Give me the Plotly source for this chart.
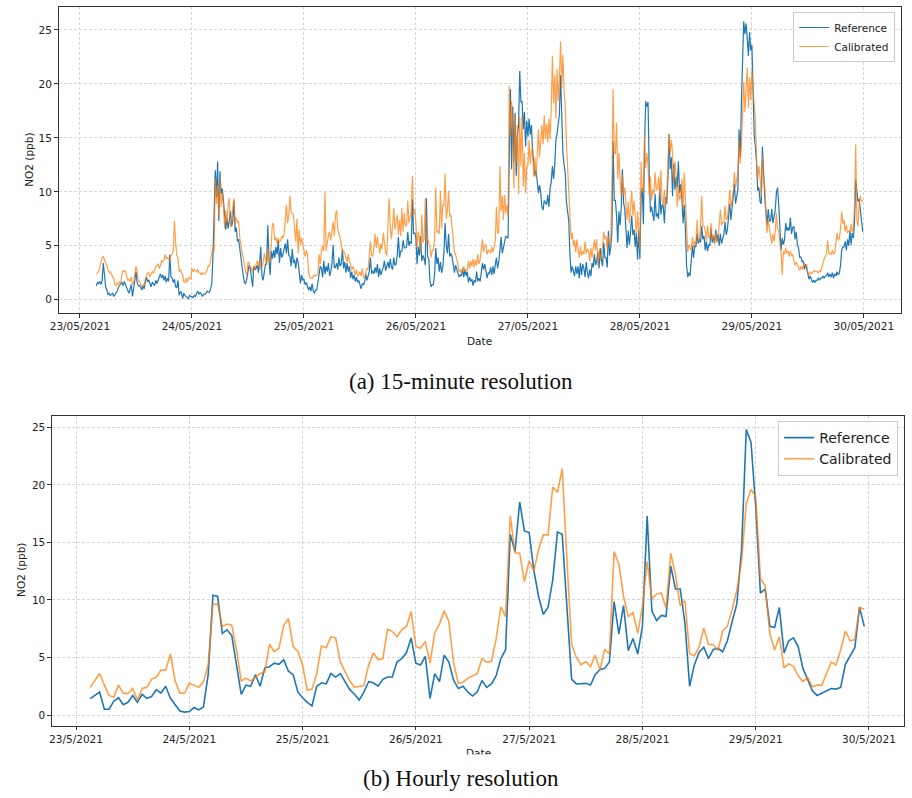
import plotly.graph_objects as go
import pandas as pd

# ---------------- data ----------------
# 15-minute resolution, starting 2021-05-23 03:30, step 15 min
start_15 = "2021-05-23 03:30"
ref_15 = [
    # 23/05
    1.3, 1.6,
    1.5, 1.7, 1.4, 1.8,  3.4, 2.4, 1.2, 0.9,  0.5, 0.6, 0.4, 0.5,  0.6, 0.3, 0.5, 0.6,
    0.8, 1.2, 1.3, 1.5,  1.6, 1.3, 1.7, 1.4,  1.1, 0.9, 0.6, 1.0,  1.4, 0.3, 0.9, 1.8,
    2.6, 1.6, 1.3, 1.3,  1.2, 0.9, 1.3, 1.0,  1.6, 2.1, 1.7, 1.8,  1.5, 1.2, 1.6, 1.5,
    1.3, 1.8, 1.5, 1.8,  2.1, 2.4, 2.0, 2.3,  1.8, 2.2, 1.6, 2.0,  1.7, 4.2, 2.1, 2.0,
    1.6, 1.9, 1.2, 1.1,  1.8, 0.4, 0.7, 0.7,  0.1, 0.6, 0.4, 0.3,  0.2, 0.1, 0.4, 0.3,
    # 24/05
    0.3, 0.2, 0.4, 0.3,  0.6, 0.8, 0.5, 0.7,  0.5, 0.3, 0.5, 0.5,  0.6, 0.8, 0.7, 0.7,
    1.0, 1.5, 4.0, 7.5,  12.0, 9.5, 12.8, 7.3,  11.9, 9.8, 10.3, 9.2,  7.7, 6.5, 7.6, 6.6,
    7.3, 8.2, 6.8, 7.3,  9.2, 6.3, 6.7, 5.4,  5.6, 4.6, 3.9, 3.1,  2.2, 1.6, 1.5, 1.9,
    2.4, 3.2, 2.9, 1.9,  1.2, 3.1, 2.8, 2.9,  3.2, 2.5, 3.4, 4.9,  2.2, 1.8, 2.7, 3.3,
    3.3, 6.9, 3.9, 2.3,  4.5, 3.8, 4.6, 3.9,  4.9, 4.2, 5.5, 3.4,  4.8, 3.9, 4.2, 4.7,
    5.2, 4.3, 5.6, 4.1,  4.0, 3.1, 4.7, 3.4,  3.7, 2.9, 3.9, 3.5,  2.4, 1.5, 2.3, 1.8,
    # 25/05
    1.9, 1.4, 1.6, 1.1,  0.9, 1.2, 0.8, 1.5,  0.8, 0.6, 0.9, 0.9,  1.6, 2.4, 3.1, 2.9,
    2.1, 3.6, 2.4, 3.1,  2.6, 3.4, 2.2, 2.6,  3.3, 5.1, 3.0, 3.0,  3.4, 2.8, 3.9, 3.1,
    3.3, 4.7, 2.9, 3.5,  2.5, 3.4, 2.6, 3.1,  2.0, 2.6, 1.9, 2.3,  1.7, 2.1, 1.6, 1.8,
    1.3, 1.0, 1.5, 1.4,  1.6, 2.4, 1.8, 2.2,  2.6, 3.9, 2.4, 2.7,  2.4, 3.0, 2.5, 3.3,
    2.1, 2.9, 2.3, 2.7,  3.0, 3.6, 2.7, 3.1,  3.5, 2.9, 3.8, 3.0,  2.8, 3.9, 3.2, 3.3,
    4.2, 5.8, 3.9, 4.5,  4.5, 5.5, 4.8, 4.8,  4.9, 6.3, 5.0, 5.4,  5.2, 9.3, 6.1, 6.2,
    # 26/05
    5.7, 3.3, 4.9, 4.1,  5.9, 3.6, 4.1, 3.8,  3.2, 9.4, 4.0, 3.8,  1.8, 1.2, 1.4, 1.4,
    2.4, 4.8, 3.3, 3.9,  2.6, 3.5, 2.5, 3.0,  4.4, 7.1, 5.0, 4.3,  6.1, 4.0, 4.3, 4.0,
    3.4, 2.5, 3.2, 2.9,  2.6, 2.1, 2.3, 2.2,  2.9, 2.1, 2.8, 2.2,  2.6, 1.6, 2.1, 1.7,
    1.9, 1.3, 1.8, 1.6,  2.6, 1.7, 2.0, 1.7,  2.5, 3.4, 2.8, 3.3,  2.7, 2.0, 2.5, 2.4,
    3.0, 2.3, 3.1, 2.4,  3.2, 3.9, 2.9, 3.5,  4.6, 5.8, 4.3, 4.9,  5.2, 5.9, 5.8, 5.7,
    13.3, 19.5, 12.1, 17.9,  12.8, 17.3, 11.5, 15.2,  16.1, 21.2, 18.3, 18.4,  15.8, 17.4, 14.2, 16.6,
    # 27/05
    15.1, 16.8, 15.3, 16.2,  13.8, 12.9, 11.5, 12.0,  10.8, 9.9, 10.6, 9.9,  8.6, 8.3, 9.2, 8.9,
    8.8, 9.7, 8.6, 10.3,  10.9, 12.4, 11.2, 12.5,  14.8, 15.4, 16.2, 17.2,  20.8, 15.9, 13.6, 12.5,
    11.8, 9.1, 8.2, 7.3,  4.2, 2.5, 3.1, 2.6,  2.2, 3.1, 2.4, 3.1,  2.0, 3.4, 2.3, 3.3,
    2.9, 2.1, 3.5, 2.5,  2.0, 2.8, 2.2, 3.4,  3.0, 4.2, 3.2, 3.6,  4.4, 2.9, 4.8, 3.7,
    3.1, 5.3, 3.9, 3.9,  3.0, 6.4, 4.1, 4.9,  6.3, 14.7, 9.2, 9.2,  7.8, 5.3, 8.2, 6.9,
    8.5, 12.1, 9.0, 8.4,  6.1, 4.8, 6.4, 5.1,  6.3, 7.8, 6.0, 6.5,  4.9, 6.2, 3.7, 6.4,
    # 28/05
    3.8, 9.6, 10.4, 7.0,  14.6, 18.4, 17.9, 18.3,  11.6, 8.1, 8.6, 7.9,  7.3, 9.8, 7.7, 8.0,
    7.5, 10.4, 7.9, 8.8,  8.7, 7.1, 9.5, 8.9,  11.2, 15.3, 12.1, 13.2,  9.6, 12.6, 10.2, 11.4,
    10.4, 12.8, 9.9, 10.7,  9.5, 7.1, 8.8, 6.6,  3.2, 2.1, 2.5, 2.2,  3.5, 5.0, 3.9, 5.0,
    4.9, 6.1, 5.2, 5.6,  5.3, 6.8, 5.6, 5.9,  4.6, 5.4, 4.5, 5.1,  5.0, 6.6, 5.3, 5.9,
    5.2, 6.5, 5.4, 6.1,  5.0, 6.1, 5.2, 5.7,  6.1, 7.2, 6.0, 6.5,  7.6, 8.9, 7.4, 8.5,
    9.2, 10.7, 8.9, 9.8,  10.2, 15.8, 13.2, 18.2,  23.2, 25.8, 24.6, 25.6,  24.3, 22.6, 24.8, 23.1,
    # 29/05
    23.6, 19.4, 15.2, 14.2,  12.8, 10.1, 10.4, 9.1,  8.9, 14.2, 11.1, 9.6,  8.2, 6.9, 8.4, 7.3,
    7.3, 8.4, 7.1, 7.6,  8.3, 9.9, 10.4, 8.8,  6.2, 4.6, 5.7, 5.1,  5.6, 7.1, 6.4, 6.7,
    6.4, 7.6, 6.1, 6.7,  6.8, 5.6, 6.3, 5.1,  4.8, 3.9, 4.0, 3.5,  3.6, 2.8, 3.3, 2.7,
    2.4, 1.9, 2.2, 1.9,  1.6, 1.8, 1.6, 1.8,  1.8, 2.0, 1.8, 2.0,  2.0, 2.2, 2.0, 2.2,
    2.2, 2.5, 2.1, 2.4,  2.1, 2.5, 2.0, 2.4,  2.2, 2.6, 2.3, 2.5,  3.2, 4.6, 4.9, 4.9,
    5.4, 4.6, 5.6, 5.0,  6.4, 5.1, 6.2, 5.7,  7.2, 11.1, 10.0, 9.1,  9.3, 8.1, 7.1, 6.3,
]
cal_15 = [
    # 23/05
    2.4, 2.5,
    2.6, 3.0, 3.5, 3.9,  4.0, 3.7, 3.4, 3.3,  2.9, 2.5, 2.6, 2.4,  2.2, 1.9, 1.4, 1.3,
    1.6, 1.4, 1.7, 1.5,  2.4, 2.7, 2.6, 2.7,  2.2, 1.8, 1.9, 1.7,  2.1, 1.4, 1.6, 2.3,
    3.1, 2.6, 1.8, 1.7,  1.3, 1.1, 1.4, 1.4,  1.9, 2.3, 2.5, 2.5,  2.1, 2.4, 2.6, 2.5,
    2.8, 3.1, 3.2, 3.3,  2.9, 3.2, 3.6, 3.5,  3.7, 4.2, 3.8, 3.9,  3.7, 3.6, 4.1, 4.2,
    4.5, 7.3, 5.3, 4.1,  3.9, 2.6, 2.8, 2.5,  2.3, 1.7, 1.6, 2.0,  1.6, 2.1, 2.0, 1.9,
    # 24/05
    2.9, 2.6, 2.8, 2.7,  2.6, 2.8, 2.5, 2.5,  2.3, 2.5, 2.4, 2.4,  2.6, 2.7, 3.2, 3.1,
    3.6, 4.3, 5.0, 4.5,  11.2, 8.9, 10.6, 7.7,  11.4, 8.6, 9.9, 8.7,  6.6, 8.3, 7.1, 8.8,
    9.4, 6.8, 6.8, 8.6,  9.4, 7.0, 7.6, 7.2,  7.3, 5.7, 5.0, 4.6,  3.9, 3.0, 2.6, 2.3,
    3.5, 3.4, 2.9, 3.0,  2.5, 3.1, 2.9, 3.3,  3.6, 3.1, 3.7, 2.8,  3.1, 3.4, 4.3, 3.6,
    3.2, 4.7, 3.6, 3.5,  5.1, 7.1, 6.9, 5.5,  5.8, 5.2, 5.7, 5.3,  5.5, 5.9, 5.7, 6.1,
    7.4, 8.8, 7.1, 7.7,  9.6, 8.1, 8.0, 7.9,  6.6, 5.4, 7.5, 4.3,  6.5, 5.1, 5.7, 4.9,
    # 25/05
    4.6, 4.0, 4.6, 4.2,  2.5, 2.1, 2.0, 2.0,  2.2, 2.3, 2.2, 2.3,  2.4, 4.2, 3.3, 4.5,
    5.0, 4.5, 10.0, 4.5,  5.6, 6.0, 6.3, 5.5,  6.3, 7.2, 5.9, 7.8,  8.3, 6.5, 6.2, 5.8,
    5.2, 4.4, 4.5, 4.3,  4.0, 3.5, 4.2, 3.5,  3.3, 2.8, 3.1, 2.6,  2.3, 2.8, 2.2, 2.3,
    2.6, 2.2, 2.9, 2.1,  2.0, 2.5, 2.9, 2.8,  3.9, 5.4, 4.1, 4.0,  4.9, 6.1, 4.8, 5.8,
    5.0, 4.3, 5.2, 4.7,  6.2, 4.9, 4.4, 4.1,  8.0, 9.4, 6.8, 5.6,  6.9, 8.5, 6.5, 7.1,
    7.9, 6.0, 7.4, 5.9,  8.5, 6.3, 8.0, 6.8,  6.9, 9.2, 7.1, 7.6,  8.2, 11.5, 7.9, 8.4,
    # 26/05
    7.1, 4.8, 6.3, 5.6,  4.4, 7.9, 5.3, 5.6,  9.4, 5.2, 5.8, 5.2,  4.9, 3.9, 4.6, 4.6,
    5.6, 10.4, 6.2, 6.4,  6.1, 10.1, 6.6, 8.8,  8.7, 11.7, 7.5, 8.3,  10.1, 7.7, 7.9, 6.7,
    5.6, 4.4, 4.2, 3.8,  3.2, 2.6, 2.8, 2.4,  2.9, 3.1, 2.6, 2.8,  2.7, 3.6, 2.9, 3.6,
    3.1, 3.8, 3.0, 3.7,  3.2, 4.2, 3.3, 3.7,  4.6, 5.6, 4.4, 5.0,  5.1, 4.2, 4.6, 4.5,
    4.3, 4.9, 4.4, 5.0,  5.4, 8.6, 6.2, 6.2,  12.4, 8.2, 9.6, 7.4,  9.7, 8.0, 8.8, 7.7,
    19.8, 15.1, 18.4, 15.9,  10.3, 17.2, 12.7, 16.2,  9.8, 16.9, 12.4, 17.1,  10.5, 13.6, 9.9, 12.4,
    # 27/05
    12.4, 14.8, 12.6, 13.8,  14.1, 11.4, 13.2, 11.3,  13.6, 15.8, 13.2, 15.0,  16.2, 14.4, 17.1, 14.9,
    16.3, 14.6, 16.8, 14.9,  17.6, 22.6, 18.2, 20.8,  16.8, 21.4, 18.4, 20.8,  23.9, 19.6, 22.7, 19.4,
    17.8, 14.6, 12.2, 9.4,  7.8, 5.6, 6.2, 5.0,  5.5, 4.4, 5.6, 4.5,  3.9, 4.9, 4.1, 4.5,
    4.2, 5.4, 4.3, 4.7,  4.5, 3.6, 4.8, 3.9,  5.0, 5.6, 4.6, 5.6,  3.2, 4.6, 3.6, 4.2,
    5.0, 6.3, 5.6, 5.9,  4.6, 5.9, 5.1, 5.6,  10.2, 19.5, 13.6, 13.5,  16.4, 11.2, 13.6, 11.2,
    9.5, 11.6, 9.7, 10.4,  8.6, 7.4, 9.1, 7.1,  8.5, 10.1, 7.8, 9.2,  7.6, 6.1, 8.2, 6.5,
    # 28/05
    4.6, 12.8, 10.3, 9.9,  15.2, 12.2, 13.6, 12.4,  9.6, 11.4, 9.2, 10.2,  9.8, 11.8, 10.2, 10.2,
    11.4, 9.7, 12.0, 9.3,  8.8, 10.2, 8.6, 9.6,  12.4, 15.4, 13.6, 14.8,  13.6, 10.8, 12.8, 11.6,
    8.6, 10.6, 9.2, 9.6,  11.2, 8.5, 11.8, 8.3,  6.9, 4.4, 5.1, 4.8,  4.6, 5.8, 4.8, 5.4,
    5.2, 7.4, 5.5, 5.5,  7.0, 9.6, 6.8, 6.8,  6.5, 5.4, 6.9, 5.8,  5.7, 7.1, 5.6, 6.0,
    5.2, 6.2, 5.3, 5.7,  6.8, 8.3, 6.9, 7.2,  7.2, 8.7, 7.4, 7.5,  8.6, 10.2, 8.7, 9.1,
    10.1, 11.8, 10.4, 11.1,  11.9, 14.8, 12.6, 14.1,  16.6, 20.2, 17.4, 19.4,  21.5, 17.8, 20.6, 18.5,
    # 29/05
    21.3, 19.6, 18.4, 16.7,  12.6, 11.2, 12.4, 11.4,  9.6, 13.4, 11.2, 10.6,  7.9, 6.2, 7.4, 6.7,
    5.9, 5.2, 6.1, 5.4,  6.3, 8.0, 6.5, 6.4,  5.2, 4.4, 2.3, 4.5,  4.2, 4.8, 4.3, 4.5,
    4.0, 4.5, 4.1, 4.2,  3.6, 3.2, 3.5, 3.3,  3.0, 2.7, 3.1, 2.8,  3.2, 3.4, 3.1, 3.3,
    2.5, 2.3, 2.6, 2.4,  2.5, 2.7, 2.6, 2.6,  2.6, 2.5, 2.7, 2.6,  3.0, 3.6, 3.8, 4.0,
    4.4, 5.5, 4.2, 4.3,  4.2, 4.6, 4.2, 4.4,  5.2, 6.2, 5.5, 5.7,  6.6, 8.2, 7.0, 7.4,
    6.3, 6.9, 6.2, 6.4,  6.2, 7.0, 6.3, 6.7,  8.8, 14.4, 7.4, 6.8,  8.9, 9.6, 9.1, 9.2,
]

# Hourly resolution, starting 2021-05-23 03:00, step 1 h
start_h = "2021-05-23 03:00"
ref_h = [
    1.42, 1.7, 2.0, 0.5, 0.5, 1.2, 1.5, 0.9, 1.1, 1.7, 1.1, 1.8, 1.45, 1.6, 2.2, 1.9,
    2.5, 1.45, 0.9, 0.35, 0.25,
    0.3, 0.65, 0.45, 0.7, 3.5, 10.4, 10.3, 7.1, 7.4, 6.9, 4.3, 1.8, 2.6, 2.5, 3.5, 2.5,
    4.1, 4.2, 4.5, 4.4, 4.8, 3.8, 3.5, 2.0,
    1.5, 1.1, 0.8, 2.5, 2.8, 2.7, 3.6, 3.3, 3.6, 2.9, 2.2, 1.8, 1.3, 2.0, 2.9, 2.8,
    2.5, 3.1, 3.3, 3.3, 4.6, 4.9, 5.4, 6.7,
    4.5, 4.35, 5.1, 1.45, 3.6, 2.9, 5.2, 4.6, 3.0, 2.3, 2.5, 2.0, 1.65, 2.0, 3.0, 2.4,
    2.7, 3.4, 4.9, 5.65, 15.7, 14.2, 18.5, 16.0,
    15.85, 12.55, 10.3, 8.75, 9.35, 11.75, 15.9, 15.7, 9.1, 3.1, 2.7, 2.75, 2.75, 2.6,
    3.5, 3.95, 4.05, 4.6, 9.85, 7.05, 9.5, 5.6, 6.65, 5.3,
    7.7, 17.3, 9.05, 8.2, 8.65, 8.55, 12.95, 10.95, 10.95, 8.0, 2.5, 4.35, 5.45, 5.9,
    4.9, 5.7, 5.8, 5.5, 6.45, 8.1, 9.65, 14.35, 24.8, 23.7,
    18.1, 10.6, 10.95, 7.7, 7.6, 9.35, 5.4, 6.45, 6.7, 5.95, 4.05, 3.1, 2.1, 1.7, 1.9,
    2.1, 2.3, 2.25, 2.4, 4.4, 5.15, 5.85, 9.35, 7.7,
]
cal_h = [
    2.4, 3.0, 3.6, 2.6, 1.7, 1.55, 2.6, 1.9, 1.85, 2.3, 1.3, 2.3, 2.4, 3.1, 3.3, 3.9,
    3.9, 5.3, 2.95, 1.9, 1.9,
    2.75, 2.6, 2.4, 2.9, 4.35, 9.6, 9.65, 7.7, 7.9, 7.8, 5.65, 2.95, 3.2, 2.95, 3.3, 3.6,
    3.75, 6.15, 5.5, 5.8, 7.75, 8.4, 5.95, 5.55,
    4.35, 2.15, 2.25, 3.6, 6.0, 5.85, 6.8, 6.7, 4.6, 3.8, 2.95, 2.4, 2.45, 2.55, 4.35, 5.4,
    4.8, 4.9, 7.45, 7.25, 6.8, 7.4, 7.7, 9.0,
    5.95, 5.8, 6.4, 4.5, 7.15, 7.9, 9.05, 8.1, 4.5, 2.75, 2.85, 3.2, 3.4, 3.6, 4.9, 4.6,
    4.65, 6.6, 9.4, 8.55, 17.3, 14.1, 14.05, 11.6,
    13.4, 12.5, 14.4, 15.65, 15.65, 19.8, 19.35, 21.4, 13.5, 6.15, 5.0, 4.35, 4.65, 4.2,
    5.2, 3.9, 5.7, 5.3, 14.2, 13.1, 10.3, 8.55, 8.9, 7.1,
    9.4, 13.35, 10.1, 10.5, 10.6, 9.3, 14.05, 12.2, 9.5, 9.95, 5.3, 5.15, 5.9, 7.55,
    6.15, 6.1, 5.6, 7.3, 7.7, 9.15, 10.85, 13.35, 18.4, 19.6,
    19.0, 11.9, 11.2, 7.05, 5.65, 6.8, 4.1, 4.45, 4.2, 3.4, 2.9, 3.25, 2.45, 2.6, 2.6,
    3.6, 4.6, 4.35, 5.65, 7.3, 6.45, 6.55, 9.35, 9.2,
]

series_names = ["Reference", "Calibrated"]
tick_days = ["2021-05-23", "2021-05-24", "2021-05-25", "2021-05-26",
             "2021-05-27", "2021-05-28", "2021-05-29", "2021-05-30"]
y_ticks = [0, 5, 10, 15, 20, 25]
captions = ["(a) 15-minute resolution", "(b) Hourly resolution"]

# ---------------- figure ----------------
W, H = 912, 798
def px(x):
    return x / W
def py(y):
    return 1 - y / H

t15 = pd.date_range(start_15, periods=len(ref_15), freq="15min")
th = pd.date_range(start_h, periods=len(ref_h), freq="h")

BLUE = "#1f77b4"
ORANGE = "rgba(255,127,14,0.75)"
TICKFONT = dict(family="DejaVu Sans", size=10.5, color="#222222")

fig = go.Figure()
fig.add_trace(go.Scatter(x=t15, y=ref_15, mode="lines", name=series_names[0],
                         line=dict(color=BLUE, width=1.2), xaxis="x", yaxis="y",
                         legend="legend"))
fig.add_trace(go.Scatter(x=t15, y=cal_15, mode="lines", name=series_names[1],
                         line=dict(color=ORANGE, width=1.2), xaxis="x", yaxis="y",
                         legend="legend"))
fig.add_trace(go.Scatter(x=th, y=ref_h, mode="lines", name=series_names[0],
                         line=dict(color=BLUE, width=1.6), xaxis="x2", yaxis="y2",
                         legend="legend2"))
fig.add_trace(go.Scatter(x=th, y=cal_h, mode="lines", name=series_names[1],
                         line=dict(color=ORANGE, width=1.6), xaxis="x2", yaxis="y2",
                         legend="legend2"))

axis_common = dict(showline=True, mirror=True, linecolor="#333333", linewidth=1,
                   ticks="outside", ticklen=3.5, tickwidth=0.8, tickcolor="#333333",
                   showgrid=True, gridcolor="#d6d6d6", griddash="3px,2px", gridwidth=0.8,
                   zeroline=False, tickfont=TICKFONT)

fig.update_layout(
    width=W, height=H,
    margin=dict(l=0, r=0, t=0, b=0),
    paper_bgcolor="white", plot_bgcolor="white",
    xaxis=dict(domain=[px(50), px(900.7)], anchor="y", type="date",
               range=["2021-05-22 19:24", "2021-05-30 07:55"],
               tickvals=tick_days, tickformat="%d/%m/%Y", **axis_common),
    yaxis=dict(domain=[py(313), py(7)], anchor="x", range=[-1.23, 27.13],
               tickvals=y_ticks, **axis_common),
    xaxis2=dict(domain=[px(43.3), px(904)], anchor="y2", type="date",
                range=["2021-05-22 18:53", "2021-05-30 07:26"],
                tickvals=tick_days, tickformat="%-d/%-m/%Y", **axis_common),
    yaxis2=dict(domain=[py(725.7), py(415.7)], anchor="x2", range=[-0.93, 26.01],
                tickvals=y_ticks, **axis_common),
    legend=dict(x=px(895), y=py(12), xanchor="right", yanchor="top",
                bgcolor="rgba(255,255,255,0.85)", bordercolor="#cccccc", borderwidth=1,
                font=dict(family="DejaVu Sans", size=10.5, color="#222222"),
                itemwidth=30, tracegroupgap=0),
    legend2=dict(x=px(898), y=py(421), xanchor="right", yanchor="top",
                 bgcolor="rgba(255,255,255,0.85)", bordercolor="#cccccc", borderwidth=1,
                 font=dict(family="DejaVu Sans", size=14, color="#222222"),
                 itemwidth=30, tracegroupgap=0),
    showlegend=True,
)

label_font = dict(family="DejaVu Sans", size=10.5, color="#222222")
annotations = [
    dict(text="NO2 (ppb)", x=px(20), y=py(160), textangle=-90, font=label_font),
    dict(text="NO2 (ppb)", x=px(12), y=py(570), textangle=-90, font=label_font),
    dict(text="Date", x=px(475), y=py(341), font=label_font),
    dict(text="Date", x=px(474), y=py(753), font=label_font),
    dict(text=" ", x=px(474), y=py(761), width=50, height=10, bgcolor="white"),
    dict(text=captions[0], x=px(456.5), y=py(381),
         font=dict(family="Liberation Serif", size=23, color="#111111")),
    dict(text=captions[1], x=px(457), y=py(778),
         font=dict(family="Liberation Serif", size=23, color="#111111")),
]
for a in annotations:
    a.update(xref="paper", yref="paper", showarrow=False, xanchor="center", yanchor="middle")
fig.update_layout(annotations=annotations)

fig.write_html("out.html")
